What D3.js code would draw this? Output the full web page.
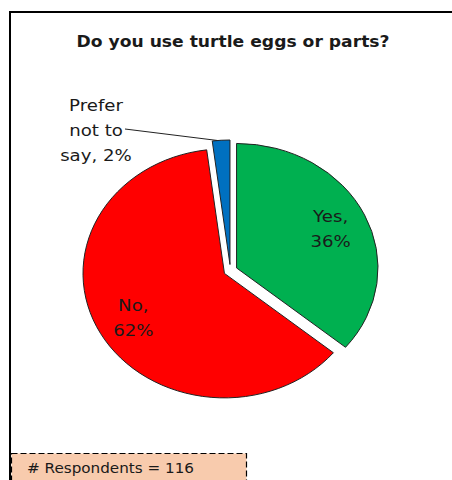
<!DOCTYPE html>
<html>
<head>
<meta charset="utf-8">
<script src="https://cdn.jsdelivr.net/npm/d3@7"></script>
<style>
  body { margin: 0; background: #fff; }
  svg { display: block; }
  text { font-family: "DejaVu Sans", Verdana, sans-serif; fill: #1a1a1a; }
</style>
</head>
<body>
<div id="chart"></div>
<script>
// data
var categories = ["Yes", "No", "Prefer not to say"];
var values = [36, 62, 2];
var labelLines = [["Yes,", "36%"], ["No,", "62%"], ["Prefer", "not to", "say, 2%"]];
var colors = ["#00b050", "#ff0000", "#0070c0"];
var title = "Do you use turtle eggs or parts?";
var respondents = 116;

var width = 452, height = 480;

var svg = d3.select("#chart").append("svg")
  .attr("width", width)
  .attr("height", height);

svg.append("rect")
  .attr("width", width).attr("height", height)
  .attr("fill", "#fff");

// chart frame (only left and top edges show)
svg.append("rect")
  .attr("x", 10).attr("y", 12)
  .attr("width", 460).attr("height", 490)
  .attr("fill", "none")
  .attr("stroke", "#000")
  .attr("stroke-width", 2);

// title
svg.append("text")
  .attr("x", 233).attr("y", 47)
  .attr("text-anchor", "middle")
  .attr("font-weight", "bold")
  .attr("font-size", "15px")
  .attr("textLength", 313)
  .attr("lengthAdjust", "spacingAndGlyphs")
  .text(title);

// pie (the picture is stretched sideways, so x gets scaled)
var cx = 230.4, cy = 270.5, R = 124.5, sx = 1.136, explode = 6;

var pie = d3.pie().sort(null).value(function(d) { return d; });
var arcs = pie(values);

var arc = d3.arc().innerRadius(0).outerRadius(R);
var labelArc = d3.arc().innerRadius(0).outerRadius(R * 1.47); // centroid at ~0.735 R

function offsetOf(d) {
  var a = (d.startAngle + d.endAngle) / 2;
  return [Math.sin(a) * explode * sx, -Math.cos(a) * explode];
}

var g = svg.append("g").attr("transform", "translate(" + cx + "," + cy + ")");

g.selectAll("path.slice")
  .data(arcs)
  .enter().append("path")
  .attr("class", "slice")
  .attr("transform", function(d) {
    var o = offsetOf(d);
    return "translate(" + o[0] + "," + o[1] + ") scale(" + sx + ",1)";
  })
  .attr("d", arc)
  .attr("fill", function(d, i) { return colors[i]; })
  .attr("stroke", "#222")
  .attr("stroke-width", 1)
  .attr("vector-effect", "non-scaling-stroke");

// inside labels for Yes / No
var lineH = 25;
arcs.forEach(function(d, i) {
  if (i > 1) return;
  var o = offsetOf(d);
  var c = labelArc.centroid(d);
  var x = c[0] * sx + o[0], y = c[1] + o[1];
  var lines = labelLines[i];
  var t = g.append("text")
    .attr("transform", "translate(" + x + "," + y + ") scale(" + sx + ",1)")
    .attr("text-anchor", "middle")
    .attr("font-size", "16px");
  lines.forEach(function(s, k) {
    t.append("tspan")
      .attr("x", 0)
      .attr("y", (k - (lines.length - 1) / 2) * lineH + 6)
      .text(s);
  });
});

// outside label for the small slice, with leader line
var small = arcs[2];
var so = offsetOf(small);
var attachA = small.startAngle + (small.endAngle - small.startAngle) * 0.3;
var attach = [Math.sin(attachA) * R * sx + so[0], -Math.cos(attachA) * R + so[1]];

var lx = 96 - cx, ly = 111 - cy;
var st = g.append("text")
  .attr("transform", "translate(" + lx + "," + ly + ") scale(" + sx + ",1)")
  .attr("text-anchor", "middle")
  .attr("font-size", "16px");
labelLines[2].forEach(function(s, k) {
  st.append("tspan").attr("x", 0).attr("y", k * lineH).text(s);
});

g.append("line")
  .attr("x1", lx + 29).attr("y1", ly + lineH - 7)
  .attr("x2", attach[0]).attr("y2", attach[1])
  .attr("stroke", "#222")
  .attr("stroke-width", 1);

// respondents note box
svg.append("rect")
  .attr("x", 11.5).attr("y", 453.5)
  .attr("width", 235).attr("height", 40)
  .attr("fill", "#f8cbad")
  .attr("stroke", "#000")
  .attr("stroke-width", 1.2)
  .attr("stroke-dasharray", "6,3");

svg.append("text")
  .attr("x", 27).attr("y", 473)
  .attr("font-size", "14px")
  .attr("textLength", 167)
  .attr("lengthAdjust", "spacingAndGlyphs")
  .text("# Respondents = " + respondents);
</script>
</body>
</html>
